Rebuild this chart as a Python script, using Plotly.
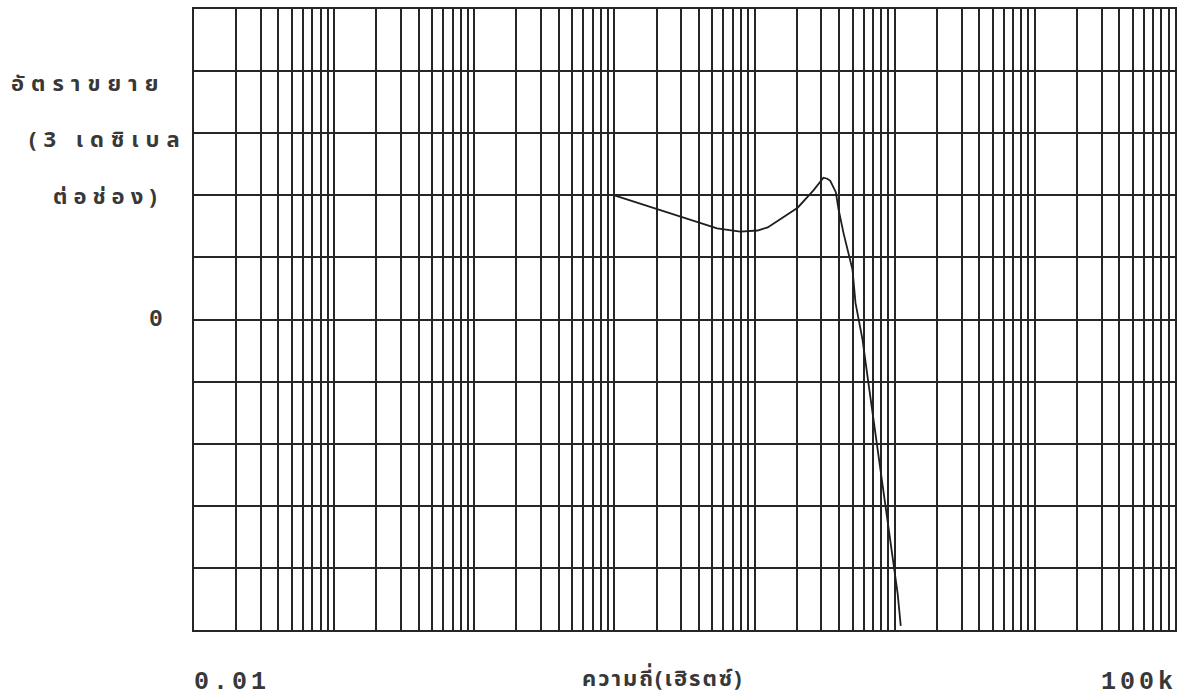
import plotly.graph_objects as go

# ---- data ----
freq_hz = [10, 21, 31, 54, 79, 105, 124, 158, 203, 264, 310, 330, 347, 380, 398,
           432, 500, 525, 590, 641, 697, 756, 834, 935, 1050, 1104]
gain_db = [6.0, 5.3, 4.9, 4.4, 4.25, 4.3, 4.45, 4.9, 5.4, 6.25, 6.85, 6.8, 6.7, 6.15, 5.3,
           4.15, 2.4, 0.8, -1.0, -2.8, -4.55, -6.35, -8.4, -10.85, -13.25, -14.8]

x_tick_labels = ["0.01", "100k"]
y_zero_label = "0"
y_title_lines = ["อัตราขยาย", "(3 เดซิเบล", "ต่อช่อง)"]
x_title = "ความถี่(เฮิรตซ์)"

y_min, y_max, y_step = -15, 15, 3

# minor grid positions for the log axis (1..9 per decade)
grid_vals = [m * 10 ** e for e in range(-2, 5) for m in range(1, 10)] + [1e5]

GRID = "#262626"
TXT = "#383838"
MONO = "Liberation Mono, Courier New, monospace"
THAI = "Noto Sans Thai, Loma, Garuda, Norasi, Noto Sans, sans-serif"

fig = go.Figure()
fig.add_trace(go.Scatter(
    x=freq_hz, y=gain_db, mode="lines",
    line=dict(color="#1e1e1e", width=1.8),
    showlegend=False, hoverinfo="skip",
))

fig.update_xaxes(
    type="log", range=[-2, 5],
    tickvals=grid_vals, showticklabels=False, ticks="",
    showgrid=True, gridcolor=GRID, gridwidth=1.7,
    showline=True, linecolor=GRID, linewidth=2, mirror=True,
    zeroline=False,
)
fig.update_yaxes(
    range=[y_min, y_max], dtick=y_step, tick0=0,
    showticklabels=False, ticks="",
    showgrid=True, gridcolor=GRID, gridwidth=1.7,
    showline=True, linecolor=GRID, linewidth=2, mirror=True,
    zeroline=False,
)

ann = []
# x tick labels at the ends
ann.append(dict(x=-2, y=0, xref="x", yref="paper", yshift=-52, xshift=-2,
                text=f'<span style="letter-spacing:4px">{x_tick_labels[0]}</span>',
                showarrow=False, xanchor="left", yanchor="middle",
                font=dict(family=MONO, size=25, color=TXT, weight=700)))
ann.append(dict(x=5, y=0, xref="x", yref="paper", yshift=-52, xshift=4,
                text=f'<span style="letter-spacing:4px">{x_tick_labels[1]}</span>',
                showarrow=False, xanchor="right", yanchor="middle",
                font=dict(family=MONO, size=25, color=TXT, weight=700)))
# x title
ann.append(dict(x=0.478, y=0, xref="paper", yref="paper", yshift=-49,
                text=f'<span style="letter-spacing:2px">{x_title}</span>',
                showarrow=False, xanchor="center", yanchor="middle",
                font=dict(family=THAI, size=22, color=TXT, weight=700)))
# y zero label
ann.append(dict(x=0, y=0, xref="paper", yref="y", xshift=-29,
                text=y_zero_label, showarrow=False, xanchor="right", yanchor="middle",
                font=dict(family=MONO, size=23, color=TXT, weight=700)))
# y title lines
y_line_pos = [82, 138, 195]
y_line_right = [167, 189, 165]
y_line_spacing = [7, 7, 6]
for txt, py, pr, ls in zip(y_title_lines, y_line_pos, y_line_right, y_line_spacing):
    ann.append(dict(x=0, y=1, xref="paper", yref="paper",
                    xshift=pr - 194, yshift=-(py - 7),
                    text=f'<span style="letter-spacing:{ls}px">{txt}</span>',
                    showarrow=False, xanchor="right", yanchor="middle",
                    font=dict(family=THAI, size=22, color=TXT, weight=700)))

fig.update_layout(
    width=1191, height=698,
    margin=dict(l=194, r=16, t=7, b=68),
    paper_bgcolor="white", plot_bgcolor="white",
    annotations=ann,
)

fig.write_html("out.html")
